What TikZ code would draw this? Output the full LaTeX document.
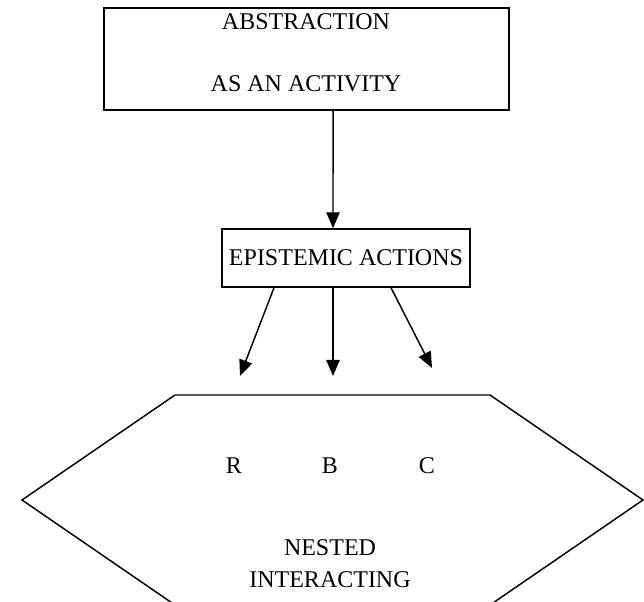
\documentclass[tikz,border=0pt]{standalone}
\usepackage{fontspec}
\setmainfont{Liberation Serif}
\usetikzlibrary{arrows.meta}

\begin{document}
\begin{tikzpicture}[
    x=0.75pt, y=-0.75pt,
    box/.style={draw, line width=1.1pt, inner sep=0pt},
    txt/.style={font=\fontsize{18}{21}\selectfont, inner sep=0pt},
    arr/.style={line width=1.1pt, -{Triangle[length=12pt,width=10pt]}}
]
\useasboundingbox (0,0) rectangle (644,602);
\clip (0,0) rectangle (644,602);

% Abstraction box
\node[box, minimum width=303.75pt, minimum height=76.5pt] (act) at (306.5,59) {};
\node[txt] (abs) at (306,22) {ABSTRACTION};
\node[txt] (asact) at (306,84) {AS AN ACTIVITY};

% Epistemic actions
\node[box, minimum width=186pt, minimum height=43.5pt, font=\fontsize{18}{21}\selectfont] (epi) at (346,258) {EPISTEMIC ACTIONS};
\draw[arr] ([xshift=19.9pt]act.south) -- ([xshift=-9.75pt]epi.north);

% Nested hexagon (cut by the page)
\draw[line width=1.1pt] (175,395) -- (490,395) -- (643,500) -- (490,605)
    -- (175,605) -- (22,500) -- cycle;

\node[txt] (r) at (234,466) {R};
\node[txt] (b) at (330,466) {B};
\node[txt] (c) at (427,466) {C};
\node[txt] (nest) at (330,548) {NESTED};
\node[txt] (inter) at (330,580) {INTERACTING};

% Arrows to R, B, C
\coordinate (tr) at (240,376);
\coordinate (tb) at (333,376);
\coordinate (tc) at (432,368);
\draw[arr] ([xshift=-54pt]epi.south) -- (tr);
\draw[arr] ([xshift=-9.75pt]epi.south) -- (tb);
\draw[arr] ([xshift=33.75pt]epi.south) -- (tc);

\end{tikzpicture}
\end{document}
